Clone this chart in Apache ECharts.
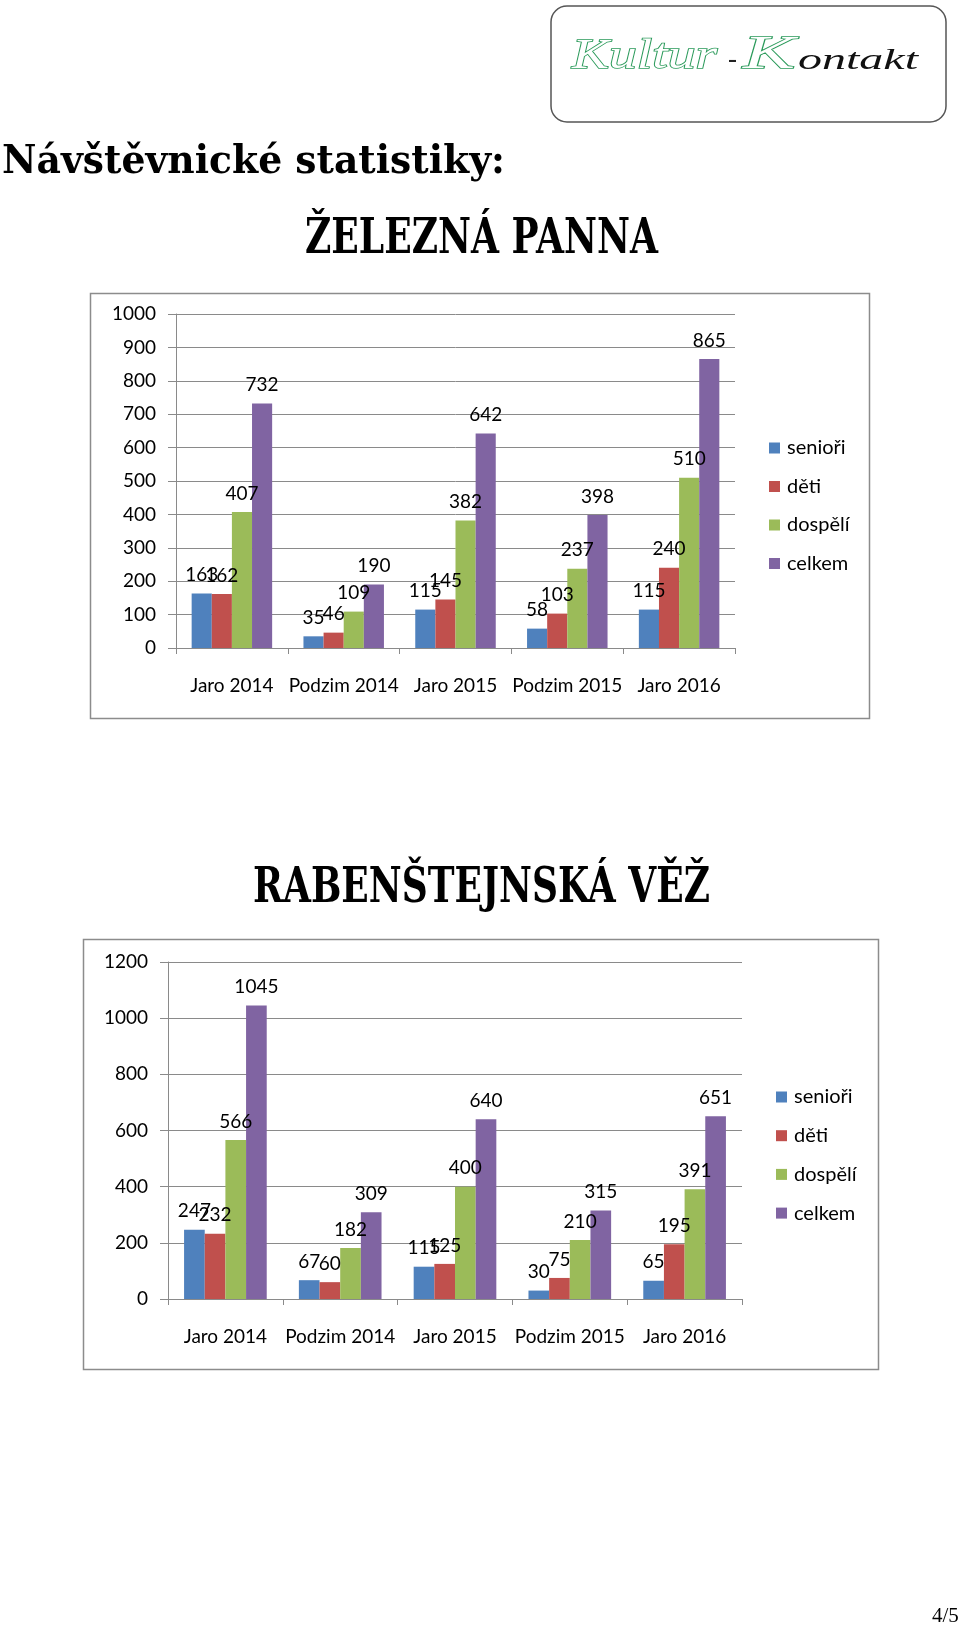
<!DOCTYPE html>
<html><head><meta charset="utf-8">
<script src="https://cdn.jsdelivr.net/npm/echarts@6/dist/echarts.min.js"></script>
<style>html,body{margin:0;padding:0;background:#fff}#c{width:960px;height:1627px}</style>
</head><body><div id="c"></div>
<script>
const categories = ['Jaro 2014','Podzim 2014','Jaro 2015','Podzim 2015','Jaro 2016'];
const seriesNames = ['senioři','děti','dospělí','celkem'];
// ŽELEZNÁ PANNA
const panna_seniori = [163, 35, 115, 58, 115];
const panna_deti    = [162, 46, 145, 103, 240];
const panna_dospeli = [407, 109, 382, 237, 510];
const panna_celkem  = [732, 190, 642, 398, 865];
// RABENŠTEJNSKÁ VĚŽ
const vez_seniori = [247, 67, 115, 30, 65];
const vez_deti    = [232, 60, 125, 75, 195];
const vez_dospeli = [566, 182, 400, 210, 391];
const vez_celkem  = [1045, 309, 640, 315, 651];

const colors = ['#4F81BD','#C0504D','#9BBB59','#8064A2'];
const FONT = 'Lato';
const FS = 19;
const gridCol = '#8a8a8a';

function xAxis(gi){
  return {type:'category', gridIndex:gi, data:categories,
    axisLine:{lineStyle:{color:gridCol,width:1}},
    axisTick:{show:true,length:6,lineStyle:{color:gridCol}},
    axisLabel:{color:'#000',fontFamily:FONT,fontSize:FS,margin:28,interval:0}};
}
function yAxis(gi,max,interval){
  return {type:'value', gridIndex:gi, min:0, max:max, interval:interval,
    axisLine:{show:true,lineStyle:{color:gridCol,width:1}},
    axisTick:{show:true,length:8,lineStyle:{color:gridCol}},
    splitLine:{show:true,lineStyle:{color:gridCol,width:1}},
    axisLabel:{color:'#000',fontFamily:FONT,fontSize:FS,margin:20,formatter:v=>String(v)}};
}
function bars(gi, arrs){
  return arrs.map((d,i)=>({type:'bar', name:seriesNames[i], xAxisIndex:gi, yAxisIndex:gi,
    data:d, barGap:'0%', barCategoryGap:'28%', itemStyle:{color:colors[i]},
    label:{show:true,position:'top',distance:9,color:'#000',fontFamily:FONT,fontSize:FS}}));
}
function legend(left,top,gap){
  return {orient:'vertical', left:left, top:top, padding:0, data:seriesNames, icon:'rect',
    itemWidth:11,itemHeight:11,itemGap:gap,selectedMode:false,
    textStyle:{color:'#000',fontFamily:FONT,fontSize:20,lineHeight:20,padding:[0,0,0,2]}};
}

// text fitting helper: scale text horizontally to a target width, place by baseline
const mctx = document.createElement('canvas').getContext('2d');
function fitText(text, font, size, x, baseline, width, style){
  mctx.font = font;
  const w = mctx.measureText(text).width;
  return {type:'text', x:x, y:baseline - 0.8*size, scaleX: width / w,
    style:Object.assign({text:text, font:font, fill:'#000'}, style||{}), z:3};
}

const green = '#2a9a5a';
const graphics = [
  {type:'rect',shape:{x:551,y:6,width:395,height:116,r:16},style:{fill:'#fff',stroke:'#555',lineWidth:1.5},z:1},
  fitText('Kultur','italic 42px "Liberation Serif"',42,572,70,145,{fill:'#fff',stroke:green,lineWidth:1.6}),
  fitText('-','28px "Liberation Serif"',28,728,68,9,{fill:'#222'}),
  fitText('K','italic 46px "Liberation Serif"',46,743,70,52,{fill:'#fff',stroke:green,lineWidth:1.6}),
  fitText('ontakt','italic 30px "Liberation Serif"',30,798,70,120,{fill:'#111'}),
  fitText('Návštěvnické statistiky:','bold 40px "DejaVu Serif"',40,2,175,503),
  fitText('ŽELEZNÁ PANNA','bold 48px "DejaVu Serif"',48,305,255,353),
  fitText('RABENŠTEJNSKÁ VĚŽ','bold 48px "DejaVu Serif"',48,253,904,457),
  {type:'rect',shape:{x:90.5,y:293.5,width:779,height:425},style:{fill:'none',stroke:'#8c8c8c',lineWidth:1.5}},
  {type:'rect',shape:{x:83.5,y:939.5,width:795,height:430},style:{fill:'none',stroke:'#8c8c8c',lineWidth:1.5}},
  {type:'text',x:932,y:1606,style:{text:'4/5',font:'21px "Liberation Serif"',fill:'#000'}}
];

const chart = echarts.init(document.getElementById('c'),null,{renderer:'canvas'});
chart.setOption({
  backgroundColor:'#fff',
  animation:false,
  grid:[{left:176,top:314,width:559,height:334},{left:168,top:962,width:574,height:337}],
  xAxis:[xAxis(0),xAxis(1)],
  yAxis:[yAxis(0,1000,100),yAxis(1,1200,200)],
  legend:[legend(769,438,18.5),legend(776,1087,18.7)],
  series:[...bars(0,[panna_seniori,panna_deti,panna_dospeli,panna_celkem]),
          ...bars(1,[vez_seniori,vez_deti,vez_dospeli,vez_celkem])],
  graphic:graphics
});
</script></body></html>
